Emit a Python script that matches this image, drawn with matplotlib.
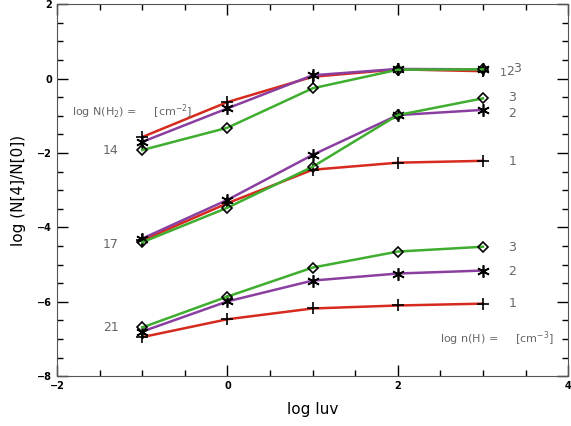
import numpy as np
import matplotlib.pyplot as plt
from matplotlib.ticker import MultipleLocator

log_iuv = [-1, 0, 1, 2, 3]

# log N(H2) = 14
n14_red = [-1.57, -0.63, 0.05, 0.25, 0.20]
n14_purple = [-1.70, -0.80, 0.09, 0.26, 0.25]
n14_green = [-1.92, -1.32, -0.26, 0.24, 0.25]

# log N(H2) = 17
n17_red = [-4.35, -3.35, -2.45, -2.26, -2.21]
n17_purple = [-4.30, -3.26, -2.05, -0.98, -0.84]
n17_green = [-4.40, -3.47, -2.37, -0.98, -0.53]

# log N(H2) = 21
n21_red = [-6.95, -6.47, -6.18, -6.10, -6.05]
n21_purple = [-6.80, -5.99, -5.43, -5.24, -5.16]
n21_green = [-6.69, -5.86, -5.08, -4.65, -4.52]

fig = plt.figure(figsize=(5.71, 4.26), dpi=100)
ax = fig.add_axes([0.1, 0.117, 0.895, 0.873])

red = '#d62a1e'
purple = '#8a3fa0'
green = '#3fae2f'
ast = (6, 2, 0)

for r, p, g in [(n14_red, n14_purple, n14_green),
                (n17_red, n17_purple, n17_green),
                (n21_red, n21_purple, n21_green)]:
    ax.plot(log_iuv, r, color=red, lw=1.8, marker='+', ms=9, mec='k', mew=1.2)
    ax.plot(log_iuv, p, color=purple, lw=1.8, marker=ast, ms=9, mec='k', mew=1.2)
    ax.plot(log_iuv, g, color=green, lw=1.8, marker='D', ms=5.5, mfc='none', mec='k', mew=1.2)

ax.set_xlim(-2, 4)
ax.set_ylim(-8, 2)
ax.xaxis.set_major_locator(MultipleLocator(2))
ax.xaxis.set_minor_locator(MultipleLocator(0.5))
ax.yaxis.set_major_locator(MultipleLocator(2))
ax.yaxis.set_minor_locator(MultipleLocator(0.5))
ax.tick_params(which='both', direction='in', top=True, right=True, labelsize=7, width=1)
ax.tick_params(which='major', length=8)
ax.tick_params(which='minor', length=4)
for lab in ax.get_xticklabels() + ax.get_yticklabels():
    lab.set_fontweight('bold')
for s in ax.spines.values():
    s.set_color('#555555')

ax.set_xlabel('log Iuv', fontsize=11, labelpad=8)
ax.set_ylabel('log (N[4]/N[0])', fontsize=11, labelpad=8)

gray = '#666666'
ax.text(-1.82, -0.9, 'log N(H$_2$) =     [cm$^{-2}$]', fontsize=8, color=gray, va='center')
ax.text(-1.37, -1.92, '14', fontsize=9, color=gray, va='center', ha='center')
ax.text(-1.37, -4.47, '17', fontsize=9, color=gray, va='center', ha='center')
ax.text(-1.37, -6.69, '21', fontsize=9, color=gray, va='center', ha='center')

ax.text(3.2, 0.15, '1', fontsize=8, color=gray, va='center')
ax.text(3.27, 0.2, '2', fontsize=9, color=gray, va='center')
ax.text(3.35, 0.27, '3', fontsize=9, color=gray, va='center')
ax.text(3.3, -0.52, '3', fontsize=9, color=gray, va='center')
ax.text(3.3, -0.95, '2', fontsize=9, color=gray, va='center')
ax.text(3.3, -2.22, '1', fontsize=9, color=gray, va='center')
ax.text(3.3, -4.55, '3', fontsize=9, color=gray, va='center')
ax.text(3.3, -5.18, '2', fontsize=9, color=gray, va='center')
ax.text(3.3, -6.05, '1', fontsize=9, color=gray, va='center')
ax.text(2.5, -7.0, 'log n(H) =     [cm$^{-3}$]', fontsize=8, color=gray, va='center')

plt.savefig('out.png', dpi=100)
